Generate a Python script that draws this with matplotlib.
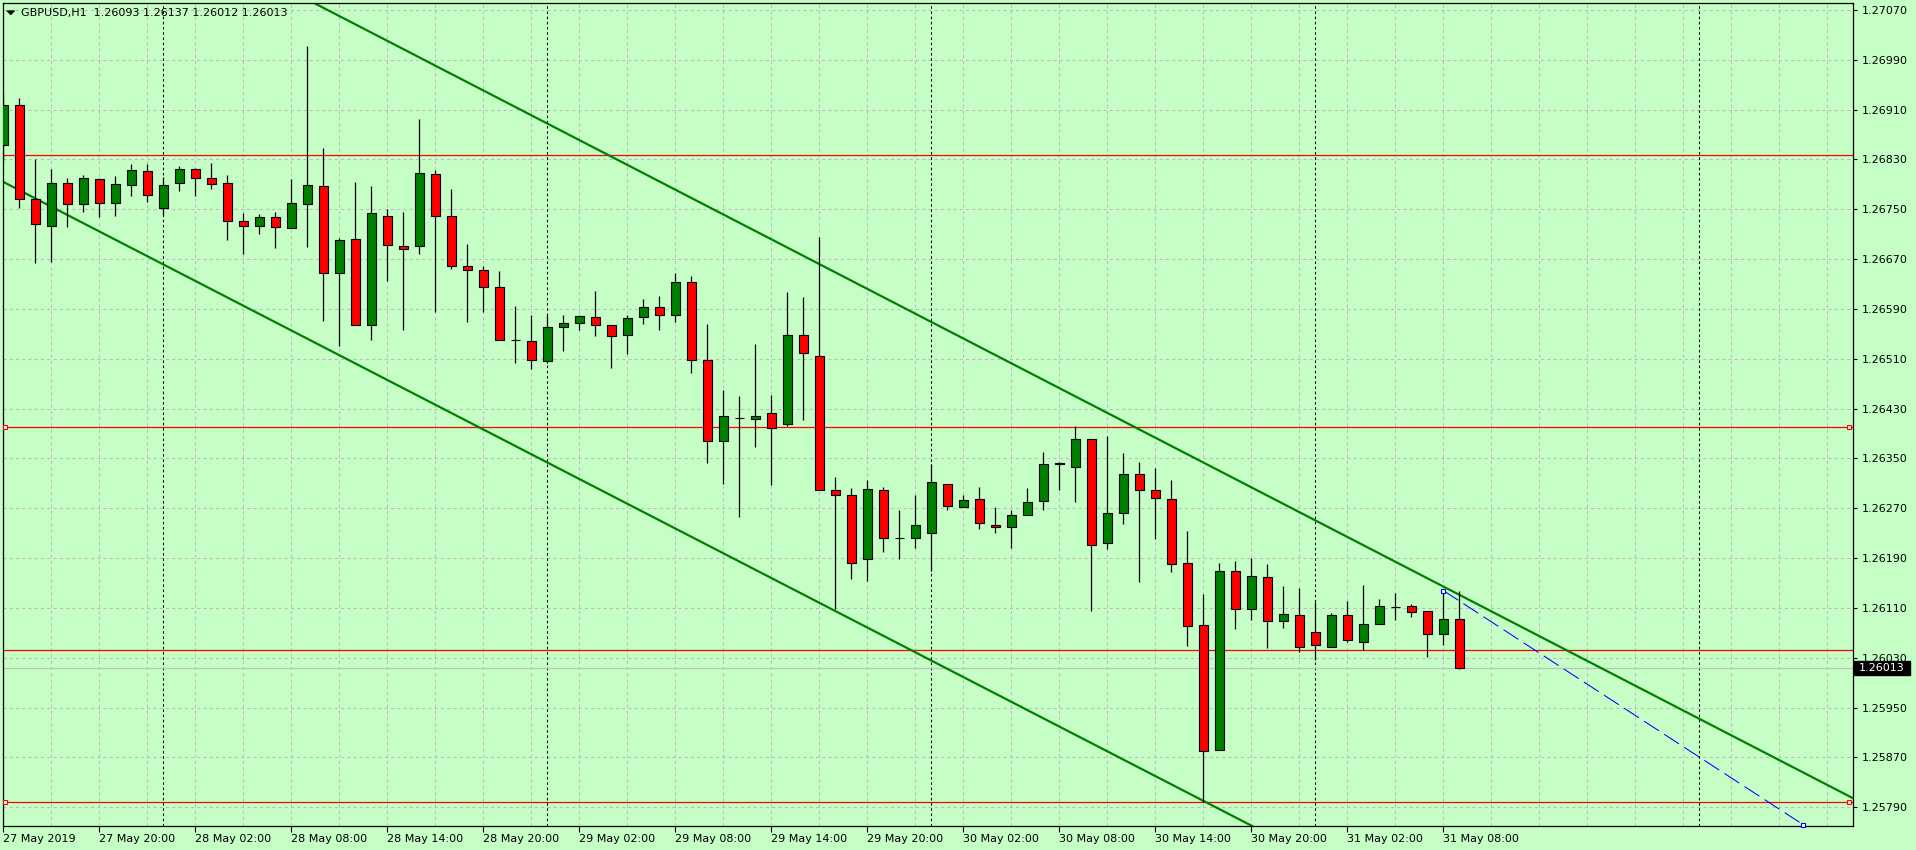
import matplotlib
matplotlib.use("Agg")
import matplotlib.pyplot as plt
import matplotlib.transforms as mtransforms
from matplotlib.patches import Rectangle, Polygon
import numpy as np
import pandas as pd

# ---------------- data ----------------
title_text = "GBPUSD,H1  1.26093 1.26137 1.26012 1.26013"
start_time = "2019-05-27 14:00"
n_slots = 116  # bars + empty future area on the right

opens = [1.26854, 1.26917, 1.26766, 1.26724, 1.26793, 1.26758, 1.26798, 1.26760, 1.26789, 1.26811,
         1.26752, 1.26793, 1.26814, 1.26801, 1.26793, 1.26731, 1.26723, 1.26737, 1.26720, 1.26758,
         1.26787, 1.26647, 1.26702, 1.26564, 1.26740, 1.26691, 1.26691, 1.26806, 1.26739, 1.26659,
         1.26652, 1.26626, 1.26541, 1.26538, 1.26506, 1.26561, 1.26567, 1.26577, 1.26565, 1.26549,
         1.26577, 1.26593, 1.26580, 1.26633, 1.26508, 1.26378, 1.26415, 1.26413, 1.26423, 1.26405,
         1.26549, 1.26514, 1.26299, 1.26291, 1.26188, 1.26299, 1.26222, 1.26222, 1.26230, 1.26309,
         1.26272, 1.26285, 1.26243, 1.26240, 1.26260, 1.26281, 1.26341, 1.26337, 1.26381, 1.26215,
         1.26262, 1.26325, 1.26299, 1.26285, 1.26182, 1.26082, 1.25882, 1.26169, 1.26108, 1.26159,
         1.26089, 1.26098, 1.26071, 1.26048, 1.26098, 1.26056, 1.26084, 1.26112, 1.26113, 1.26105,
         1.26068, 1.26093]
highs = [1.26936, 1.26929, 1.26831, 1.26815, 1.26801, 1.26805, 1.26801, 1.26803, 1.26823, 1.26822,
         1.26802, 1.26819, 1.26817, 1.26824, 1.26805, 1.26744, 1.26742, 1.26746, 1.26799, 1.27012,
         1.26849, 1.26704, 1.26794, 1.26787, 1.26750, 1.26745, 1.26895, 1.26813, 1.26782, 1.26694,
         1.26659, 1.26651, 1.26594, 1.26580, 1.26581, 1.26581, 1.26580, 1.26619, 1.26565, 1.26581,
         1.26606, 1.26611, 1.26648, 1.26643, 1.26566, 1.26460, 1.26450, 1.26534, 1.26452, 1.26617,
         1.26609, 1.26706, 1.26320, 1.26302, 1.26315, 1.26304, 1.26267, 1.26292, 1.26341, 1.26309,
         1.26291, 1.26304, 1.26272, 1.26268, 1.26302, 1.26360, 1.26344, 1.26402, 1.26381, 1.26386,
         1.26359, 1.26344, 1.26335, 1.26316, 1.26234, 1.26132, 1.26182, 1.26185, 1.26190, 1.26180,
         1.26146, 1.26142, 1.26119, 1.26102, 1.26121, 1.26147, 1.26124, 1.26134, 1.26116, 1.26105,
         1.26138, 1.26137]
lows = [1.26824, 1.26752, 1.26664, 1.26666, 1.26722, 1.26745, 1.26738, 1.26740, 1.26772, 1.26761,
        1.26741, 1.26780, 1.26772, 1.26783, 1.26700, 1.26679, 1.26711, 1.26688, 1.26720, 1.26690,
        1.26570, 1.26531, 1.26564, 1.26541, 1.26635, 1.26556, 1.26679, 1.26585, 1.26654, 1.26569,
        1.26585, 1.26540, 1.26504, 1.26494, 1.26503, 1.26523, 1.26557, 1.26547, 1.26496, 1.26518,
        1.26566, 1.26557, 1.26569, 1.26488, 1.26343, 1.26309, 1.26256, 1.26369, 1.26308, 1.26402,
        1.26411, 1.26299, 1.26109, 1.26156, 1.26154, 1.26200, 1.26188, 1.26207, 1.26170, 1.26268,
        1.26272, 1.26237, 1.26231, 1.26207, 1.26260, 1.26268, 1.26299, 1.26280, 1.26105, 1.26205,
        1.26245, 1.26152, 1.26221, 1.26168, 1.26049, 1.25799, 1.25882, 1.26077, 1.26091, 1.26046,
        1.26078, 1.26040, 1.26026, 1.26048, 1.26055, 1.26042, 1.26084, 1.26090, 1.26095, 1.26032,
        1.26050, 1.26012]
closes = [1.26917, 1.26766, 1.26726, 1.26792, 1.26758, 1.26800, 1.26760, 1.26790, 1.26813, 1.26773,
          1.26789, 1.26814, 1.26801, 1.26791, 1.26731, 1.26723, 1.26737, 1.26721, 1.26760, 1.26789,
          1.26647, 1.26700, 1.26564, 1.26744, 1.26692, 1.26687, 1.26808, 1.26740, 1.26659, 1.26652,
          1.26626, 1.26541, 1.26541, 1.26508, 1.26561, 1.26567, 1.26578, 1.26565, 1.26547, 1.26575,
          1.26593, 1.26580, 1.26633, 1.26508, 1.26378, 1.26418, 1.26415, 1.26418, 1.26399, 1.26548,
          1.26520, 1.26299, 1.26291, 1.26183, 1.26301, 1.26222, 1.26222, 1.26243, 1.26312, 1.26273,
          1.26283, 1.26246, 1.26240, 1.26260, 1.26280, 1.26341, 1.26343, 1.26381, 1.26211, 1.26262,
          1.26325, 1.26299, 1.26286, 1.26180, 1.26081, 1.25880, 1.26169, 1.26108, 1.26161, 1.26089,
          1.26100, 1.26047, 1.26050, 1.26098, 1.26058, 1.26084, 1.26113, 1.26112, 1.26103, 1.26068,
          1.26093, 1.26013]

y_ticks = [1.25790, 1.25870, 1.25950, 1.26030, 1.26110, 1.26190, 1.26270, 1.26350, 1.26430,
           1.26510, 1.26590, 1.26670, 1.26750, 1.26830, 1.26910, 1.26990, 1.27070]
y_limits = (1.25760, 1.270817)

# horizontal support/resistance levels: (price, left marker, right marker)
levels = [1.26838, 1.26400, 1.26042, 1.25798]
level_left_marker = [False, True, False, True]
level_right_marker = [False, True, False, True]

# channel trend lines: two anchor points each (bar index, price)
upper_channel = [(0.0, 1.27339), (115.5, 1.25806)]
lower_channel = [(0.0, 1.26794), (77.9, 1.25762)]
# blue dashed trend line
blue_line = [(90.0, 1.26138), (112.5, 1.25762)]

bid_price = 1.26013

# ---------------- style ----------------
BG = "#C6FFC6"
GRID = "#C0B8C0"
BULL = "#008000"
BEAR = "#FF0000"

plt.rcParams["font.family"] = ["DejaVu Sans"]

W, H = 1916, 850
fig = plt.figure(figsize=(W / 100, H / 100), dpi=100, facecolor=BG)
ax_left, ax_right, ax_top, ax_bottom = 2.5, 1852.5, 2.7, 826.0
ax = fig.add_axes([ax_left / W, (H - ax_bottom) / H, (ax_right - ax_left) / W, (ax_bottom - ax_top) / H])
ax.set_facecolor(BG)

times = pd.date_range(start_time, periods=n_slots, freq="h")
n = len(opens)
x = np.arange(n)

ax.set_xlim(-0.05, 115.575)
ax.set_ylim(*y_limits)

# grid
for xi in range(0, n_slots, 3):
    ax.axvline(xi, color=GRID, lw=0.75, ls=(0, (3, 3)), zorder=0.5)
for yt in y_ticks:
    ax.axhline(yt, color=GRID, lw=0.75, ls=(0, (3, 3)), zorder=0.5)

# day separators
for i, t in enumerate(times):
    if t.hour == 0:
        ax.axvline(i, color="black", lw=0.75, ls=(0, (2.5, 2.5)), zorder=0.6)

# bid line
ax.axhline(bid_price, color="#C0C0C0", lw=0.9, zorder=0.7)

# levels
for lv, lm, rm in zip(levels, level_left_marker, level_right_marker):
    ax.axhline(lv, color="red", lw=0.9, zorder=1)
    if lm:
        ax.plot([0.1], [lv], marker="s", ms=3.2, mfc="white", mec="red", mew=0.8, clip_on=False, zorder=5)
    if rm:
        ax.plot([115.36], [lv], marker="s", ms=3.2, mfc="white", mec="red", mew=0.8, clip_on=False, zorder=5)

# channel lines
ax.axline(upper_channel[0], upper_channel[1], color=BULL, lw=1.6, zorder=1.2)
ax.axline(lower_channel[0], lower_channel[1], color=BULL, lw=1.6, zorder=1.2)

# candles
o = np.array(opens); h = np.array(highs); l = np.array(lows); c = np.array(closes)
ax.vlines(x, l, h, color="black", lw=0.9, zorder=2)
colors = [BULL if cc >= oo else BEAR for oo, cc in zip(o, c)]
ax.bar(x, c - o, bottom=o, width=0.56, color=colors, edgecolor="black", linewidth=0.8, zorder=3)

# blue dashed line
bx = [p[0] for p in blue_line]; by = [p[1] for p in blue_line]
ax.plot(bx, by, color="#0000FF", lw=0.75, dashes=(17, 6), zorder=4)
ax.plot(bx, by, ls="none", marker="s", ms=3.2, mfc="white", mec="#0000FF", mew=0.8, zorder=5, clip_on=False)

# axes / ticks
for s in ax.spines.values():
    s.set_color("black")
    s.set_linewidth(0.9)
ax.yaxis.tick_right()
ax.set_yticks(y_ticks)
ax.set_yticklabels([f"{v:.5f}" for v in y_ticks], fontsize=8)
xt = list(range(0, n, 6))
xl = ["27 May 2019" if i == 0 else times[i].strftime("%d %b %H:%M") for i in xt]
ax.set_xticks(xt)
ax.set_xticklabels(xl, fontsize=8, ha="left")
ax.tick_params(axis="y", direction="out", length=3, width=0.8, pad=4, colors="black")
ax.tick_params(axis="x", direction="out", length=4, width=0.8, pad=2, colors="black")

# price tag for bid
trans = mtransforms.blended_transform_factory(ax.transAxes, ax.transData)
x0 = (1854 - ax_left) / (ax_right - ax_left)
x1 = (1910 - ax_left) / (ax_right - ax_left)
hh = 14 / 62289.0
ax.add_patch(Rectangle((x0, bid_price - hh / 2), x1 - x0, hh, transform=trans,
                       facecolor="black", edgecolor="black", clip_on=False, zorder=10))
ax.text((1859.3 - ax_left) / (ax_right - ax_left), bid_price, f"{bid_price:.5f}", transform=trans,
        color="white", fontsize=8, ha="left", va="center", zorder=11, clip_on=False)

# title with triangle
tri = Polygon([[6.7 / W, 1 - 10.8 / H], [14.7 / W, 1 - 10.8 / H], [10.7 / W, 1 - 14.8 / H]],
              closed=True, transform=fig.transFigure, facecolor="black", edgecolor="black", lw=0.5)
fig.add_artist(tri)
fig.text(21.3 / W, 1 - 12.7 / H, title_text, fontsize=8, ha="left", va="center", color="black")

fig.savefig("out.png", dpi=100, facecolor=BG)
